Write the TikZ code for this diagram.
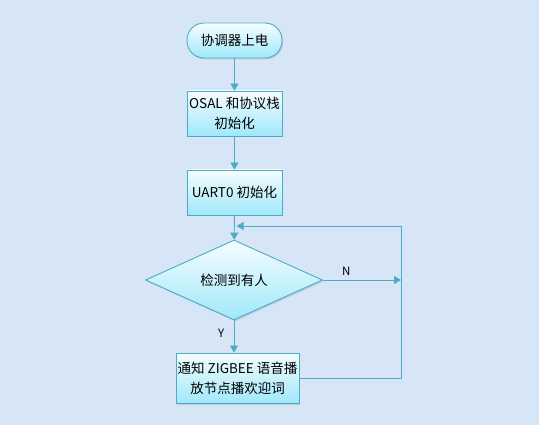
\documentclass[tikz,border=0pt]{standalone}
\usepackage{fontspec}
\setmainfont{Noto Sans CJK SC}
\usetikzlibrary{shapes.geometric,arrows.meta,shadows}
\definecolor{bgblue}{RGB}{215,230,246}
\definecolor{edgeblue}{RGB}{75,172,198}
\definecolor{cyanfill}{RGB}{160,232,250}

\begin{document}
\begin{tikzpicture}[x=1pt,y=-1pt,
  step box/.style={draw=edgeblue,line width=0.9pt,top color=white!90!cyanfill,bottom color=cyanfill,
    drop shadow={opacity=0.25,shadow xshift=1.2pt,shadow yshift=-1.5pt},
    align=center,inner sep=0pt,text=black,font=\fontsize{13.5}{20}\selectfont},
  decide/.style={step box,diamond,minimum width=177pt,minimum height=62pt},
  flow/.style={edgeblue,line width=0.9pt,-{Triangle[length=7pt,width=8pt]}},
  tag/.style={text=black,font=\fontsize{11.5}{13}\selectfont}
]
  \fill[bgblue] (0,0) rectangle (539,425);
  \useasboundingbox (0,0) rectangle (539,425);
  \draw (234.5,40.5) node[step box,rounded corners=17pt,minimum width=95pt,minimum height=35pt] (start) {协调器上电}
        (234.5,113.5) node[step box,minimum width=95pt,minimum height=45pt] (osal) {OSAL 和协议栈\\初始化}
        (234.5,192.5) node[step box,minimum width=95pt,minimum height=45pt] (uart) {UART0 初始化}
        (234,280) node[decide] (detect) {检测到有人}
        (237.5,378) node[step box,minimum width=123pt,minimum height=50pt] (notify) {通知 ZIGBEE 语音播\\放节点播欢迎词};
  \coordinate (loopbot) at (401,378);
  \coordinate (looptop) at (401,226);
  \coordinate (merge) at (234.5,226);
  \coordinate (njoin) at (401,280);
  \draw[flow] (start) -- (osal);
  \draw[flow] (osal) -- (uart);
  \draw[flow] (uart) -- (detect);
  \draw[flow] (detect) -- node[tag,pos=0.4,left=6pt] {Y} (detect.south |- notify.north);
  \draw[flow] (detect.east) -- node[tag,above=1pt,pos=0.3] {N} (njoin);
  \draw[flow] (notify.east) -- (loopbot) -- (looptop) -- ([xshift=2pt]merge);
\end{tikzpicture}
\end{document}
